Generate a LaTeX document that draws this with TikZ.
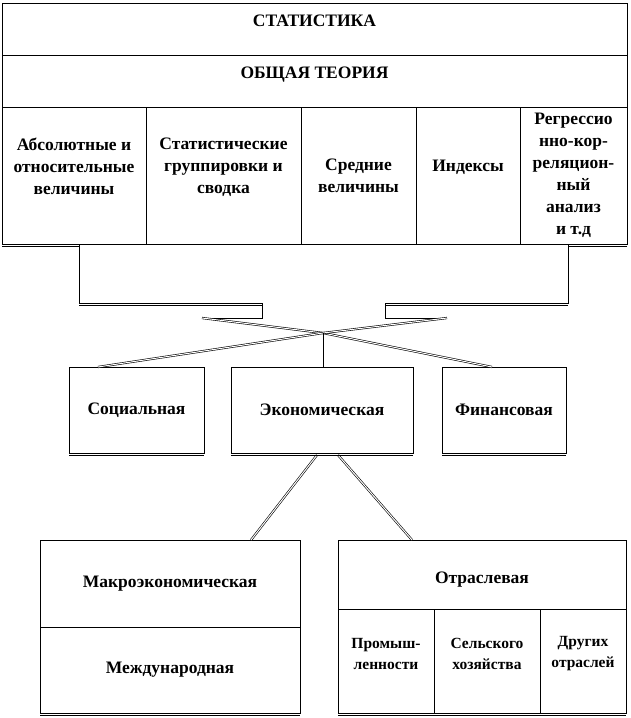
\documentclass[tikz,border=0pt]{standalone}
\usepackage{fontspec}
\setmainfont{Liberation Serif}
\usetikzlibrary{positioning,calc}
\newcommand{\diagfont}{\bfseries\fontsize{17.5}{22}\selectfont}
\newcommand{\subfont}{\bfseries\fontsize{15.5}{21}\selectfont}
\tikzset{
  box/.style={draw, line width=0.8pt, outer sep=0pt, inner sep=2pt, align=center, font=\diagfont},
  head/.style={anchor=north, inner sep=0pt, yshift=-12pt, font=\diagfont},
  txt/.style={inner sep=0pt, align=center, font=\diagfont},
  link/.style={line width=0.8pt},
  wire/.style={double, line width=0.6pt, double distance=1pt},
  shade/.style={line width=0.8pt}
}
\begin{document}
\begin{tikzpicture}[x=1pt, y=-1pt]
  \useasboundingbox (0,0) rectangle (630,718);
  % table
  \node[box, anchor=north west, minimum width=625pt, minimum height=52pt, label={[head]north:СТАТИСТИКА}] (stat) at (2,3) {};
  \node[box, below=0pt of stat, minimum width=625pt, minimum height=52pt, label={[head]north:ОБЩАЯ ТЕОРИЯ}] (gen) {};
  \node[box, anchor=north west, minimum width=144pt, minimum height=137pt,
    label={[txt, yshift=9pt]center:{Абсолютные и\\относительные\\величины}}] (abs) at (gen.south west) {};
  \node[box, right=0pt of abs, minimum width=155pt, minimum height=137pt,
    label={[txt, yshift=8pt]center:{Статистические\\группировки и\\сводка}}] (grp) {};
  \node[box, right=0pt of grp, minimum width=115pt, minimum height=137pt] (avg) {Средние\\величины};
  \node[box, right=0pt of avg, minimum width=104pt, minimum height=137pt,
    label={[txt, yshift=8pt]center:Индексы}] (idx) {};
  \node[box, right=0pt of idx, minimum width=107pt, minimum height=137pt] (reg) {Регрессио\\нно-кор-\\реляцион-\\ный\\анализ\\и т.д};
  % branches
  \node[box, anchor=north west, minimum width=135pt, minimum height=86pt] (soc) at (69,367) {Социальная};
  \node[box, right=27pt of soc, minimum width=182pt, minimum height=86pt] (econ) {Экономическая};
  \node[box, right=29pt of econ, minimum width=124pt, minimum height=86pt] (fin) {Финансовая};
  % economic branches
  \node[box, anchor=north west, minimum width=260pt, minimum height=87pt] (macro) at (40,540) {Макроэкономическая};
  \node[box, below=0pt of macro, minimum width=260pt, minimum height=86pt] (intl) {Международная};
  \node[box, anchor=north west, minimum width=288pt, minimum height=69pt,
    label={[txt, yshift=-5pt]center:Отраслевая}] (sect) at (338,540) {};
  \node[box, anchor=north west, minimum width=96pt, minimum height=104pt,
    label={[txt, font=\subfont, yshift=7pt]center:{Промыш-\\ленности}}] (ind) at (sect.south west) {};
  \node[box, right=0pt of ind, minimum width=106pt, minimum height=104pt,
    label={[txt, font=\subfont, yshift=7pt]center:{Сельского\\хозяйства}}] (agr) {};
  \node[box, right=0pt of agr, minimum width=86pt, minimum height=104pt,
    label={[txt, font=\subfont, yshift=7pt]center:{Других\\отраслей}}] (oth) {};
  % bracket and connectors
  \coordinate (lfoot) at (202,318);
  \coordinate (rfoot) at (447,318);
  \coordinate (hub) at (323,333);
  \draw[link] ([xshift=77pt]abs.south west) |- (262,303) |- (lfoot);
  \draw[link] ([xshift=-59pt]reg.south east) |- (385,303) |- (rfoot);
  \draw[shade] (79,305.2) -- (262,305.2);
  \draw[shade] (385,305.2) -- (568,305.2);
  \draw[wire] (lfoot) -- (hub) -- ([xshift=50pt]fin.north west);
  \draw[wire] (rfoot) -- (hub) -- ([xshift=29pt]soc.north west);
  \draw[link] (hub) -- (hub |- econ.north);
  \draw[wire] ([xshift=-5pt,yshift=-2pt]econ.south) -- ([xshift=-49pt]macro.north east);
  \draw[wire] ([xshift=16pt,yshift=-2pt]econ.south) -- ([xshift=74pt]sect.north west);
  % double bottom edges
  \draw[shade] ([yshift=-2.2pt]abs.south west) -- ++(77,0);
  \draw[shade] ([yshift=-2.2pt]reg.south east) -- ++(-59,0);
  \foreach \b in {soc,econ,fin,intl,ind,agr,oth}
    \draw[shade] ([yshift=-2.2pt]\b.south west) -- ([yshift=-2.2pt]\b.south east);
\end{tikzpicture}
\end{document}
